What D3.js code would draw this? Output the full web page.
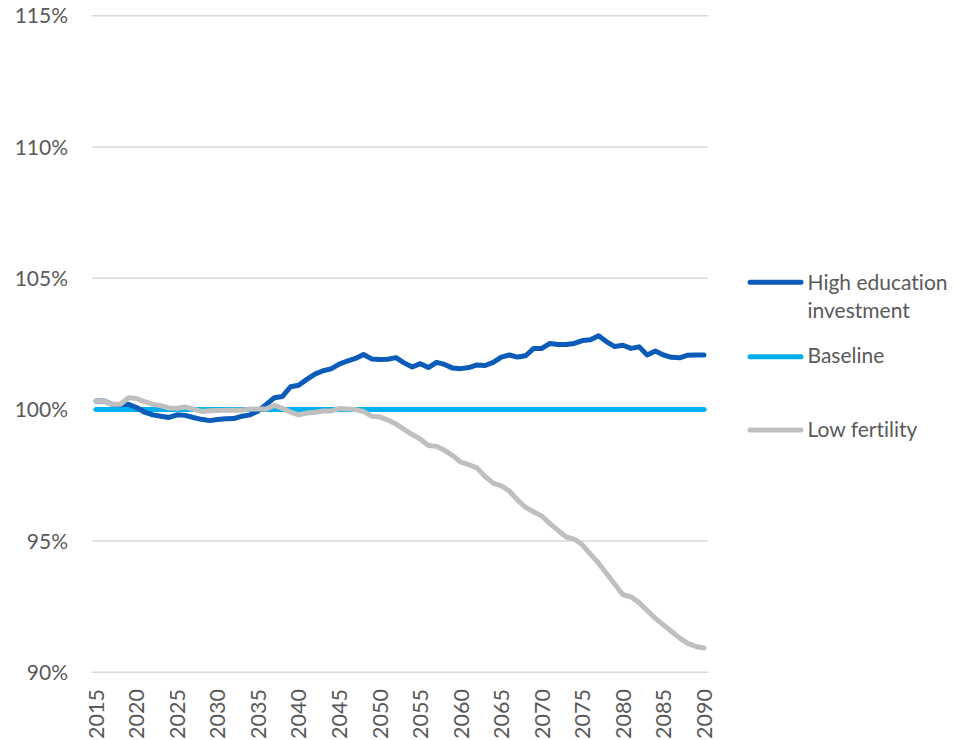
<!DOCTYPE html>
<html>
<head>
<meta charset="utf-8">
<script src="https://cdn.jsdelivr.net/npm/d3@7"></script>
<style>
html,body{margin:0;padding:0;background:#fff;}
svg{display:block;font-family:Lato,"Open Sans",sans-serif;}
svg text{font-variant-ligatures:none;font-feature-settings:"liga" 0,"clig" 0;}
</style>
</head>
<body>
<svg id="chart" width="959" height="740"></svg>
<script>
const years = d3.range(2015, 2091);
const tickYears = d3.range(2015, 2091, 5);
const yTicks = [90, 95, 100, 105, 110, 115];

const highEducation = [
100.33,100.33,100.2,100.18,100.2,100.08,99.9,99.8,99.75,99.7,
99.8,99.78,99.7,99.63,99.58,99.62,99.65,99.66,99.75,99.8,
99.95,100.2,100.45,100.5,100.87,100.93,101.15,101.35,101.48,101.55,
101.73,101.85,101.95,102.1,101.93,101.91,101.92,101.98,101.78,101.62,
101.75,101.6,101.8,101.72,101.58,101.56,101.6,101.7,101.68,101.8,
102.0,102.08,102.0,102.05,102.33,102.33,102.52,102.48,102.48,102.52,
102.63,102.66,102.81,102.58,102.4,102.45,102.33,102.39,102.08,102.23,
102.08,101.99,101.97,102.07,102.08,102.08];

const baseline = years.map(() => 100);

const lowFertility = [
100.33,100.33,100.2,100.2,100.45,100.42,100.3,100.2,100.15,100.06,
100.05,100.1,100.02,99.93,99.96,99.97,99.98,99.98,99.98,100.02,
100.02,100.02,100.16,100.05,99.9,99.8,99.87,99.9,99.95,99.95,
100.04,100.02,100.0,99.93,99.75,99.72,99.6,99.45,99.25,99.05,
98.88,98.63,98.6,98.45,98.25,98.0,97.9,97.78,97.45,97.2,
97.1,96.9,96.55,96.28,96.1,95.95,95.66,95.4,95.15,95.07,
94.85,94.5,94.15,93.75,93.35,92.95,92.87,92.65,92.35,92.05,
91.8,91.55,91.3,91.1,90.98,90.92];

const seriesNames = ["High education investment", "Baseline", "Low fertility"];
const seriesColors = ["#0A5CB8", "#00B0F0", "#BFBFBF"];
const seriesValues = [highEducation, baseline, lowFertility];

const svg = d3.select("#chart");
const plot = {left: 92, right: 708, top: 15.7, bottom: 672.2};
const textColor = "#595959";

const x = d3.scalePoint().domain(years).range([plot.left, plot.right]).padding(0.5);
const y = d3.scaleLinear().domain([90, 115]).range([plot.bottom, plot.top]);

// gridlines
svg.append("g").selectAll("line").data(yTicks).join("line")
  .attr("x1", plot.left).attr("x2", plot.right)
  .attr("y1", d => y(d)).attr("y2", d => y(d))
  .attr("stroke", "#D9D9D9").attr("stroke-width", 1.5);

// y labels
svg.append("g").selectAll("text").data(yTicks).join("text")
  .attr("x", 68).attr("y", d => y(d) + 7.6)
  .attr("text-anchor", "end")
  .attr("font-size", 21).attr("fill", textColor)
  .text(d => d + "%");

// x labels
svg.append("g").selectAll("text").data(tickYears).join("text")
  .attr("transform", d => `translate(${x(d) + 7.8},689) rotate(-90)`)
  .attr("text-anchor", "end")
  .attr("font-size", 21.5).attr("fill", textColor)
  .text(d => d);

// lines
const line = d3.line().x((d, i) => x(years[i])).y(d => y(d));
[1, 0, 2].forEach(k => {
  svg.append("path").datum(seriesValues[k])
    .attr("d", line)
    .attr("fill", "none")
    .attr("stroke", seriesColors[k])
    .attr("stroke-width", 5)
    .attr("stroke-linejoin", "round")
    .attr("stroke-linecap", "round");
});

// legend
const legendY = [282.3, 356.7, 430];
const legend = svg.append("g");
seriesNames.forEach((name, i) => {
  legend.append("line")
    .attr("x1", 750).attr("x2", 801)
    .attr("y1", legendY[i]).attr("y2", legendY[i])
    .attr("stroke", seriesColors[i]).attr("stroke-width", 5)
    .attr("stroke-linecap", "round");
});
const legendText = [["High education", "investment"], ["Baseline"], ["Low fertility"]];
const legendBase = [290, 363, 436.7];
legendText.forEach((lines, i) => {
  const t = legend.append("text")
    .attr("x", 807.5).attr("y", legendBase[i])
    .attr("font-size", 21).attr("fill", textColor);
  lines.forEach((ln, j) => {
    t.append("tspan").attr("x", 807.5).attr("dy", j === 0 ? 0 : 27.5).text(ln);
  });
});
</script>
</body>
</html>
